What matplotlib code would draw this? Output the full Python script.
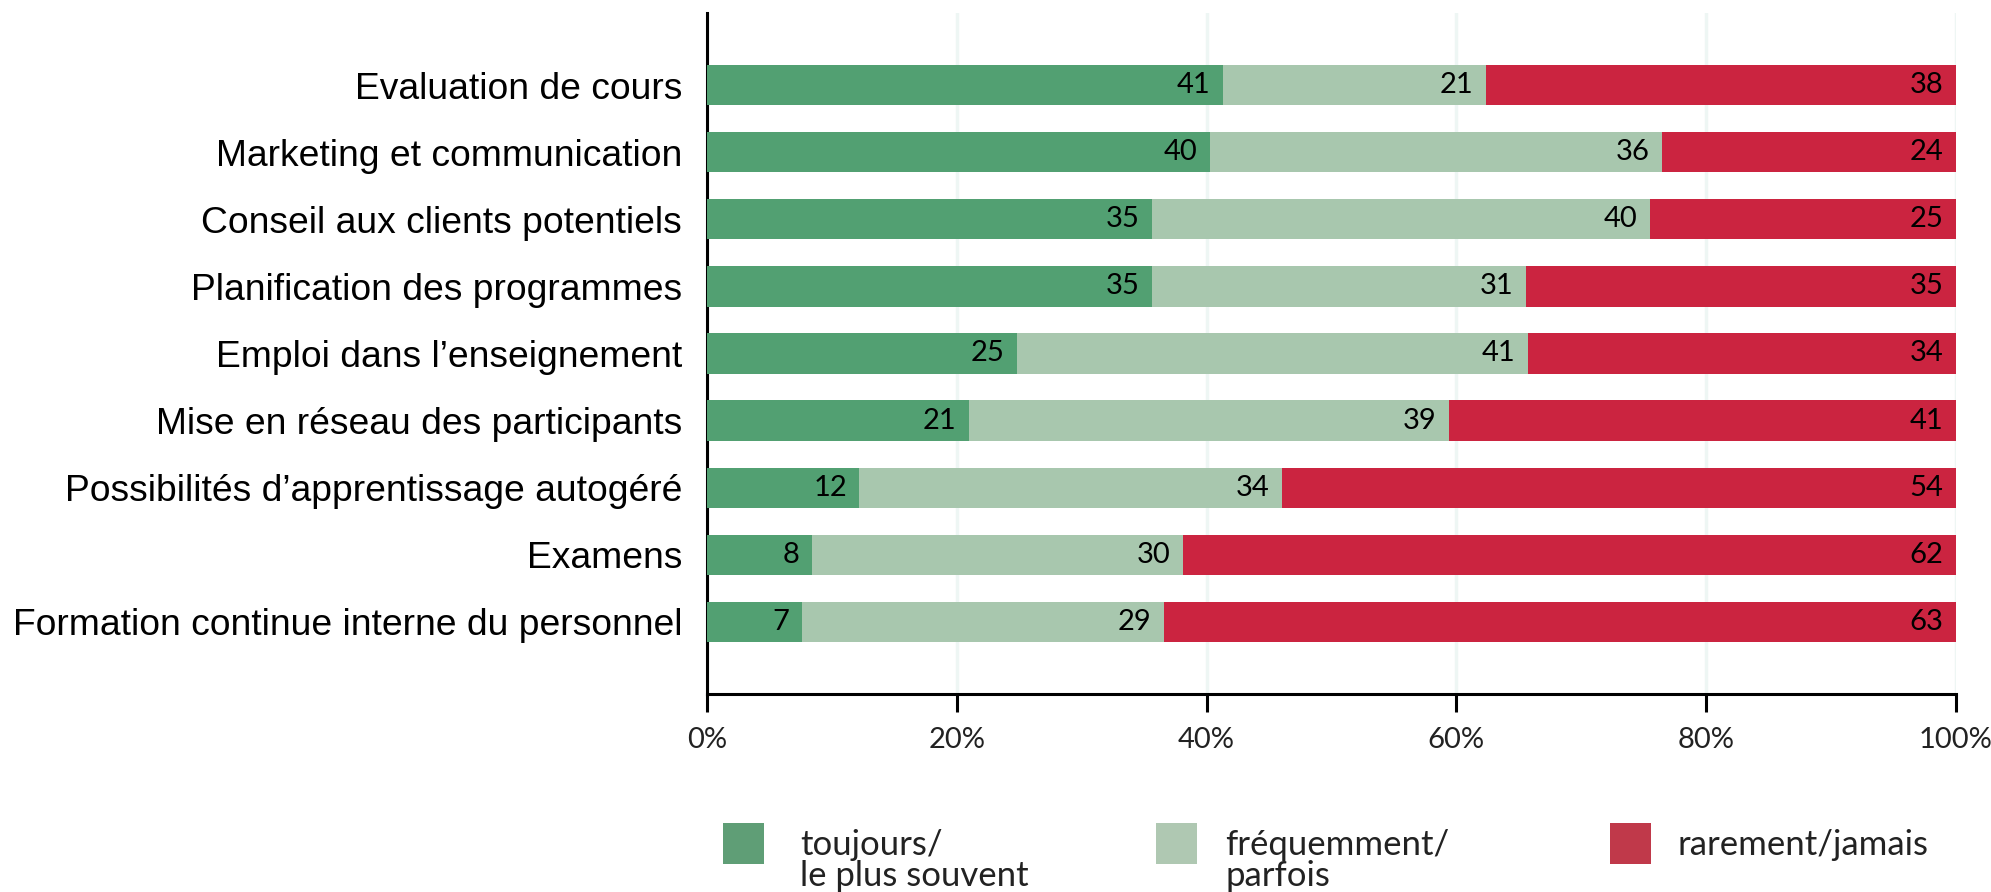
import matplotlib
matplotlib.use("Agg")
import matplotlib.pyplot as plt
from matplotlib.patches import Rectangle
import numpy as np

# -------------------------
# DONNÉES
# -------------------------
categories = [
    "Evaluation de cours",
    "Marketing et communication",
    "Conseil aux clients potentiels",
    "Planification des programmes",
    "Emploi dans l\u2019enseignement",
    "Mise en réseau des participants",
    "Possibilités d\u2019apprentissage autogéré",
    "Examens",
    "Formation continue interne du personnel",
]
# parts (%)
toujours = [41.3, 40.3, 35.6, 35.6, 24.8, 21.0, 12.2, 8.4, 7.6]
frequemment = [21.1, 36.2, 39.9, 30.0, 40.9, 38.4, 33.8, 29.7, 29.0]
rarement = [37.6, 23.5, 24.5, 34.4, 34.3, 40.6, 54.0, 61.9, 63.4]
# étiquettes affichées
lab_toujours = [41, 40, 35, 35, 25, 21, 12, 8, 7]
lab_frequemment = [21, 36, 40, 31, 41, 39, 34, 30, 29]
lab_rarement = [38, 24, 25, 35, 34, 41, 54, 62, 63]

series_names = ["toujours/\nle plus souvent", "fréquemment/\nparfois", "rarement/jamais"]
xticks = [0, 20, 40, 60, 80, 100]
xticklabels = ["0%", "20%", "40%", "60%", "80%", "100%"]

# couleurs
C_BAR = ["#52A072", "#A8C7AE", "#CB2440"]
C_LEG = ["#5F9E76", "#AFC8B2", "#C0394A"]
NUM_FONT = "Lato"

# -------------------------
# FIGURE
# -------------------------
fig = plt.figure(figsize=(19.91, 8.92), dpi=100)
ax = fig.add_axes([0.3551, 0.2220, 0.6273, 0.7634])

y = np.arange(len(categories))
values = [np.array(toujours), np.array(frequemment), np.array(rarement)]
labels = [lab_toujours, lab_frequemment, lab_rarement]

left = np.zeros(len(categories))
for vals, labs, col in zip(values, labels, C_BAR):
    ax.barh(y, vals, left=left, height=0.6, color=col, edgecolor="none", zorder=3)
    for yi, l, v, lab in zip(y, left, vals, labs):
        ax.text(l + v - 1.0, yi, str(lab), ha="right", va="center",
                fontsize=21, family=NUM_FONT, color="black", zorder=4)
    left = left + vals

ax.set_xlim(0, 100)
ax.set_ylim(len(categories) - 1 + 1.073, -1.073)

ax.set_yticks(y)
ax.set_yticklabels(categories, fontsize=26.8, family="Liberation Sans")
ax.tick_params(axis="y", length=0, pad=18)

ax.set_xticks(xticks)
ax.set_xticklabels(xticklabels, fontsize=21, family=NUM_FONT, color="#222222")
ax.tick_params(axis="x", length=13, width=2.2, pad=10.5, direction="out")

ax.grid(axis="x", color="#EEF6F4", linewidth=2.5, zorder=0)
ax.set_axisbelow(True)

for s in ["top", "right"]:
    ax.spines[s].set_visible(False)
for s in ["left", "bottom"]:
    ax.spines[s].set_linewidth(2.2)
    ax.spines[s].set_color("black")

# -------------------------
# LÉGENDE (manuelle)
# -------------------------
W, H = 1991.0, 892.0
leg_x = [723, 1156, 1610]
txt_off = [77, 69, 67]
LINE_PX = 31
for xp, off, name, col in zip(leg_x, txt_off, series_names, C_LEG):
    fig.add_artist(Rectangle((xp / W, 1 - 864 / H), 41 / W, 41 / H,
                             transform=fig.transFigure, facecolor=col,
                             edgecolor="none"))
    # une ligne par texte, première ligne alignée sur le carré
    for k, line in enumerate(name.split("\n")):
        fig.text((xp + off) / W, 1 - (855 + k * LINE_PX) / H, line,
                 ha="left", va="baseline", fontsize=25, family=NUM_FONT,
                 color="#222222")

fig.savefig("out.png", dpi=100)
